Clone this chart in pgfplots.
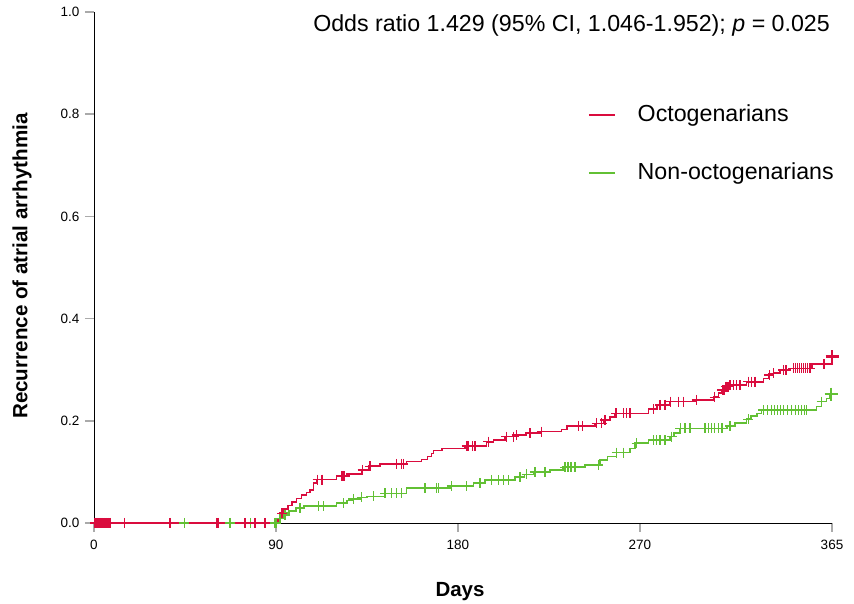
\documentclass[border=0pt]{standalone}
\usepackage{pgfplots}
\pgfplotsset{compat=1.18}
\usepackage{fontspec}
\setmainfont{Liberation Sans}
\definecolor{octo}{RGB}{218,12,62}
\definecolor{nonocto}{RGB}{98,192,52}
\definecolor{tickgray}{RGB}{170,170,170}
\begin{document}
\begin{tikzpicture}
\path[use as bounding box] (-94pt,-81pt) rectangle (760pt,523pt);
\begin{axis}[
  at={(0pt,0pt)}, anchor=south west,
  scale only axis, width=738pt, height=511pt,
  xmin=0, xmax=365, ymin=0, ymax=1,
  axis x line*=bottom, axis y line*=left,
  axis line style={-, black, line width=0.9pt},
  xtick={0,90,180,270,365},
  ytick={0,0.2,0.4,0.6,0.8,1},
  tick align=outside,
  major tick length=9pt,
  tick style={tickgray, line width=1.6pt},
  ticklabel style={font=\fontsize{13.5}{15}\selectfont},
  /pgf/number format/assume math mode=true,
  yticklabel style={xshift=-2pt, /pgf/number format/.cd, fixed, fixed zerofill, precision=1},
  xticklabel style={yshift=-5pt},
  clip=false,
  legend style={draw=none, fill=none, at={(rel axis cs:0.669,0.820)}, anchor=north west,
    font=\fontsize{23.2}{26}\selectfont, row sep=36pt, inner sep=0pt,
    nodes={inner sep=0pt, text height=17pt, text depth=5pt},
    /tikz/every odd column/.style={column sep=22pt}},
  legend cell align=left,
  legend image code/.code={\draw[#1, line width=1.8pt] (0pt,0pt) -- (26pt,0pt);},
]
% Non-octogenarians curve
\addplot[const plot, color=nonocto, line width=1.6pt, forget plot] coordinates {
(0,0) (90.3,0.004) (92,0.009) (93.6,0.016) (95,0.019) (96.5,0.023) (100,0.029) (104,0.033)
(120,0.039) (125,0.044) (128,0.047) (132,0.05) (135,0.052) (144,0.058) (154.6,0.068)
(176,0.0724) (187.6,0.078) (193.4,0.084) (208.2,0.09) (213,0.095) (217.3,0.1) (225.5,0.104)
(232.1,0.109) (242.8,0.1135) (250.3,0.123) (254,0.13) (258.5,0.1376) (265,0.146) (267.6,0.156)
(274.2,0.1624) (284.9,0.169) (287,0.176) (289.9,0.185) (313,0.19) (317,0.196) (322.8,0.203)
(325,0.209) (327.8,0.2146) (330.2,0.221) (357.4,0.2276) (359.9,0.2374) (362.3,0.244) (364,0.2524) (365,0.2524)
};
% Octogenarians curve
\addplot[const plot, color=octo, line width=1.6pt, forget plot] coordinates {
(0,0) (91,0.008) (92,0.019) (93.6,0.027) (96,0.034) (98,0.041) (100.2,0.048) (102.7,0.055)
(105,0.060) (106.8,0.065) (108.5,0.078) (110.1,0.085) (120,0.092) (125,0.096) (132.4,0.104)
(135.7,0.111) (141.5,0.1155) (154.6,0.12) (162,0.1246) (165,0.13) (167,0.136) (168,0.1415)
(172,0.146) (183.5,0.1507) (194.2,0.159) (197.5,0.162) (203.3,0.169) (208,0.172) (214,0.176)
(220.6,0.179) (231.3,0.183) (233.8,0.19) (247.8,0.195) (252,0.2016) (255.2,0.208) (257.7,0.2146)
(274.2,0.2225) (278.3,0.231) (284.9,0.2374) (298,0.2407) (306.3,0.246) (308.8,0.254) (310.5,0.26)
(312.1,0.2667) (314.6,0.27) (322.8,0.2765) (331.1,0.283) (333.6,0.2896) (336,0.293) (339.3,0.2994)
(344.2,0.3027) (355,0.311) (364.9,0.3255) (365,0.3255)
};
% Non-octogenarians censor marks
\addplot[only marks, mark=+, mark size=5pt, color=nonocto, line width=1.4pt, forget plot] coordinates {
(44.7,0) (67.3,0) (77.5,0) (89.5,0) (90,0)
(92,0.009) (94.5,0.016) (101.9,0.029) (111,0.033) (113.4,0.033) (123.3,0.039) (128.3,0.047)
(132.4,0.05) (138.1,0.052) (144,0.058) (147.2,0.058) (149.7,0.058) (152.2,0.058)
(163.7,0.068) (169.5,0.068) (170.3,0.068) (176.9,0.0724) (184.3,0.0724) (190.9,0.078)
(196.7,0.084) (200,0.084) (202.5,0.084) (205,0.084) (210.7,0.09) (214,0.095) (218.1,0.1)
(223,0.1) (233,0.109) (234.5,0.109) (236,0.109) (237.9,0.109) (249.4,0.1135) (258.5,0.1376)
(261.8,0.1376) (268.4,0.156) (276.6,0.1624) (278.3,0.1624) (280,0.1624) (282.4,0.1624)
(285.7,0.169) (290,0.185) (292.3,0.185) (294.8,0.185) (302.2,0.185) (304,0.185) (305.5,0.185)
(307,0.185) (308.8,0.185) (310.5,0.185) (314.6,0.19) (323.6,0.203) (331,0.221) (333,0.221)
(335,0.221) (336.5,0.221) (338,0.221) (339.5,0.221) (341,0.221) (343,0.221) (345,0.221)
(347,0.221) (348.5,0.221) (350,0.221) (351.5,0.221) (352.4,0.221) (359.9,0.2374)
};
% Octogenarians censor marks
\addplot[only marks, mark=+, mark size=5pt, color=octo, line width=1.4pt, forget plot] coordinates {
(0.5,0) (1,0) (1.5,0) (2,0) (2.5,0) (3,0) (3.5,0) (4,0) (5,0) (6,0) (7,0) (8,0)
(15,0) (37.6,0) (60.7,0) (61.3,0) (74.7,0) (79.6,0) (84.6,0)
(93,0.019) (110.6,0.085) (112.7,0.085) (122.5,0.092) (123,0.092) (123.5,0.092) (124,0.092)
(132.8,0.104) (136.5,0.111) (149.7,0.1155) (152,0.1155) (153,0.1155)
(184.3,0.1507) (184.8,0.1507) (185.3,0.1507) (187.3,0.1507) (188.5,0.1507)
(195,0.159) (204,0.169) (207.5,0.169) (209,0.172) (215.6,0.176) (221.4,0.179)
(239.5,0.19) (241.7,0.19) (248.6,0.195) (251,0.195) (252.7,0.2016) (258.2,0.2146)
(261.8,0.2146) (263.4,0.2146) (265.1,0.2146) (276.7,0.2225) (280,0.231) (282.4,0.231)
(285.2,0.2374) (289,0.2374) (291.5,0.2374) (298,0.2407) (307,0.246) (310.8,0.26) (311.5,0.26)
(312.5,0.2667) (313.5,0.2667) (314.6,0.27) (316.2,0.27) (317.9,0.27) (319.5,0.27)
(323.6,0.2765) (325.3,0.2765) (327,0.2765) (334,0.2896) (336,0.293) (340.9,0.2994) (342.3,0.2994)
(345.9,0.3027) (347,0.3027) (348,0.3027) (349,0.3027) (350,0.3027) (351,0.3027) (352,0.3027)
(353,0.3027) (354.2,0.3027) (361,0.311)
};
% final large marks
\addplot[only marks, mark=+, mark size=6.5pt, color=nonocto, line width=2.4pt, forget plot] coordinates {(364.5,0.2524)};
\addplot[only marks, mark=+, mark size=6.5pt, color=octo, line width=2.4pt, forget plot] coordinates {(365,0.3255)};
% legend entries
\addlegendimage{color=octo}
\addlegendentry{Octogenarians}
\addlegendimage{color=nonocto}
\addlegendentry{Non-octogenarians}
% texts
\node[anchor=base east, inner sep=0pt, font=\fontsize{23.2}{26}\selectfont] at (rel axis cs:0.9973,0.9628) {Odds ratio 1.429 (95\% CI, 1.046-1.952); \textit{p} = 0.025};
\node[rotate=90, anchor=center, inner sep=0pt, font=\bfseries\fontsize{20.6}{24}\selectfont] at ([xshift=-72pt]rel axis cs:0,0.503) {Recurrence of atrial arrhythmia};
\node[anchor=center, inner sep=0pt, font=\bfseries\fontsize{20.5}{24}\selectfont] at ([yshift=-69pt]rel axis cs:0.496,0) {Days};
\end{axis}
\end{tikzpicture}
\end{document}
